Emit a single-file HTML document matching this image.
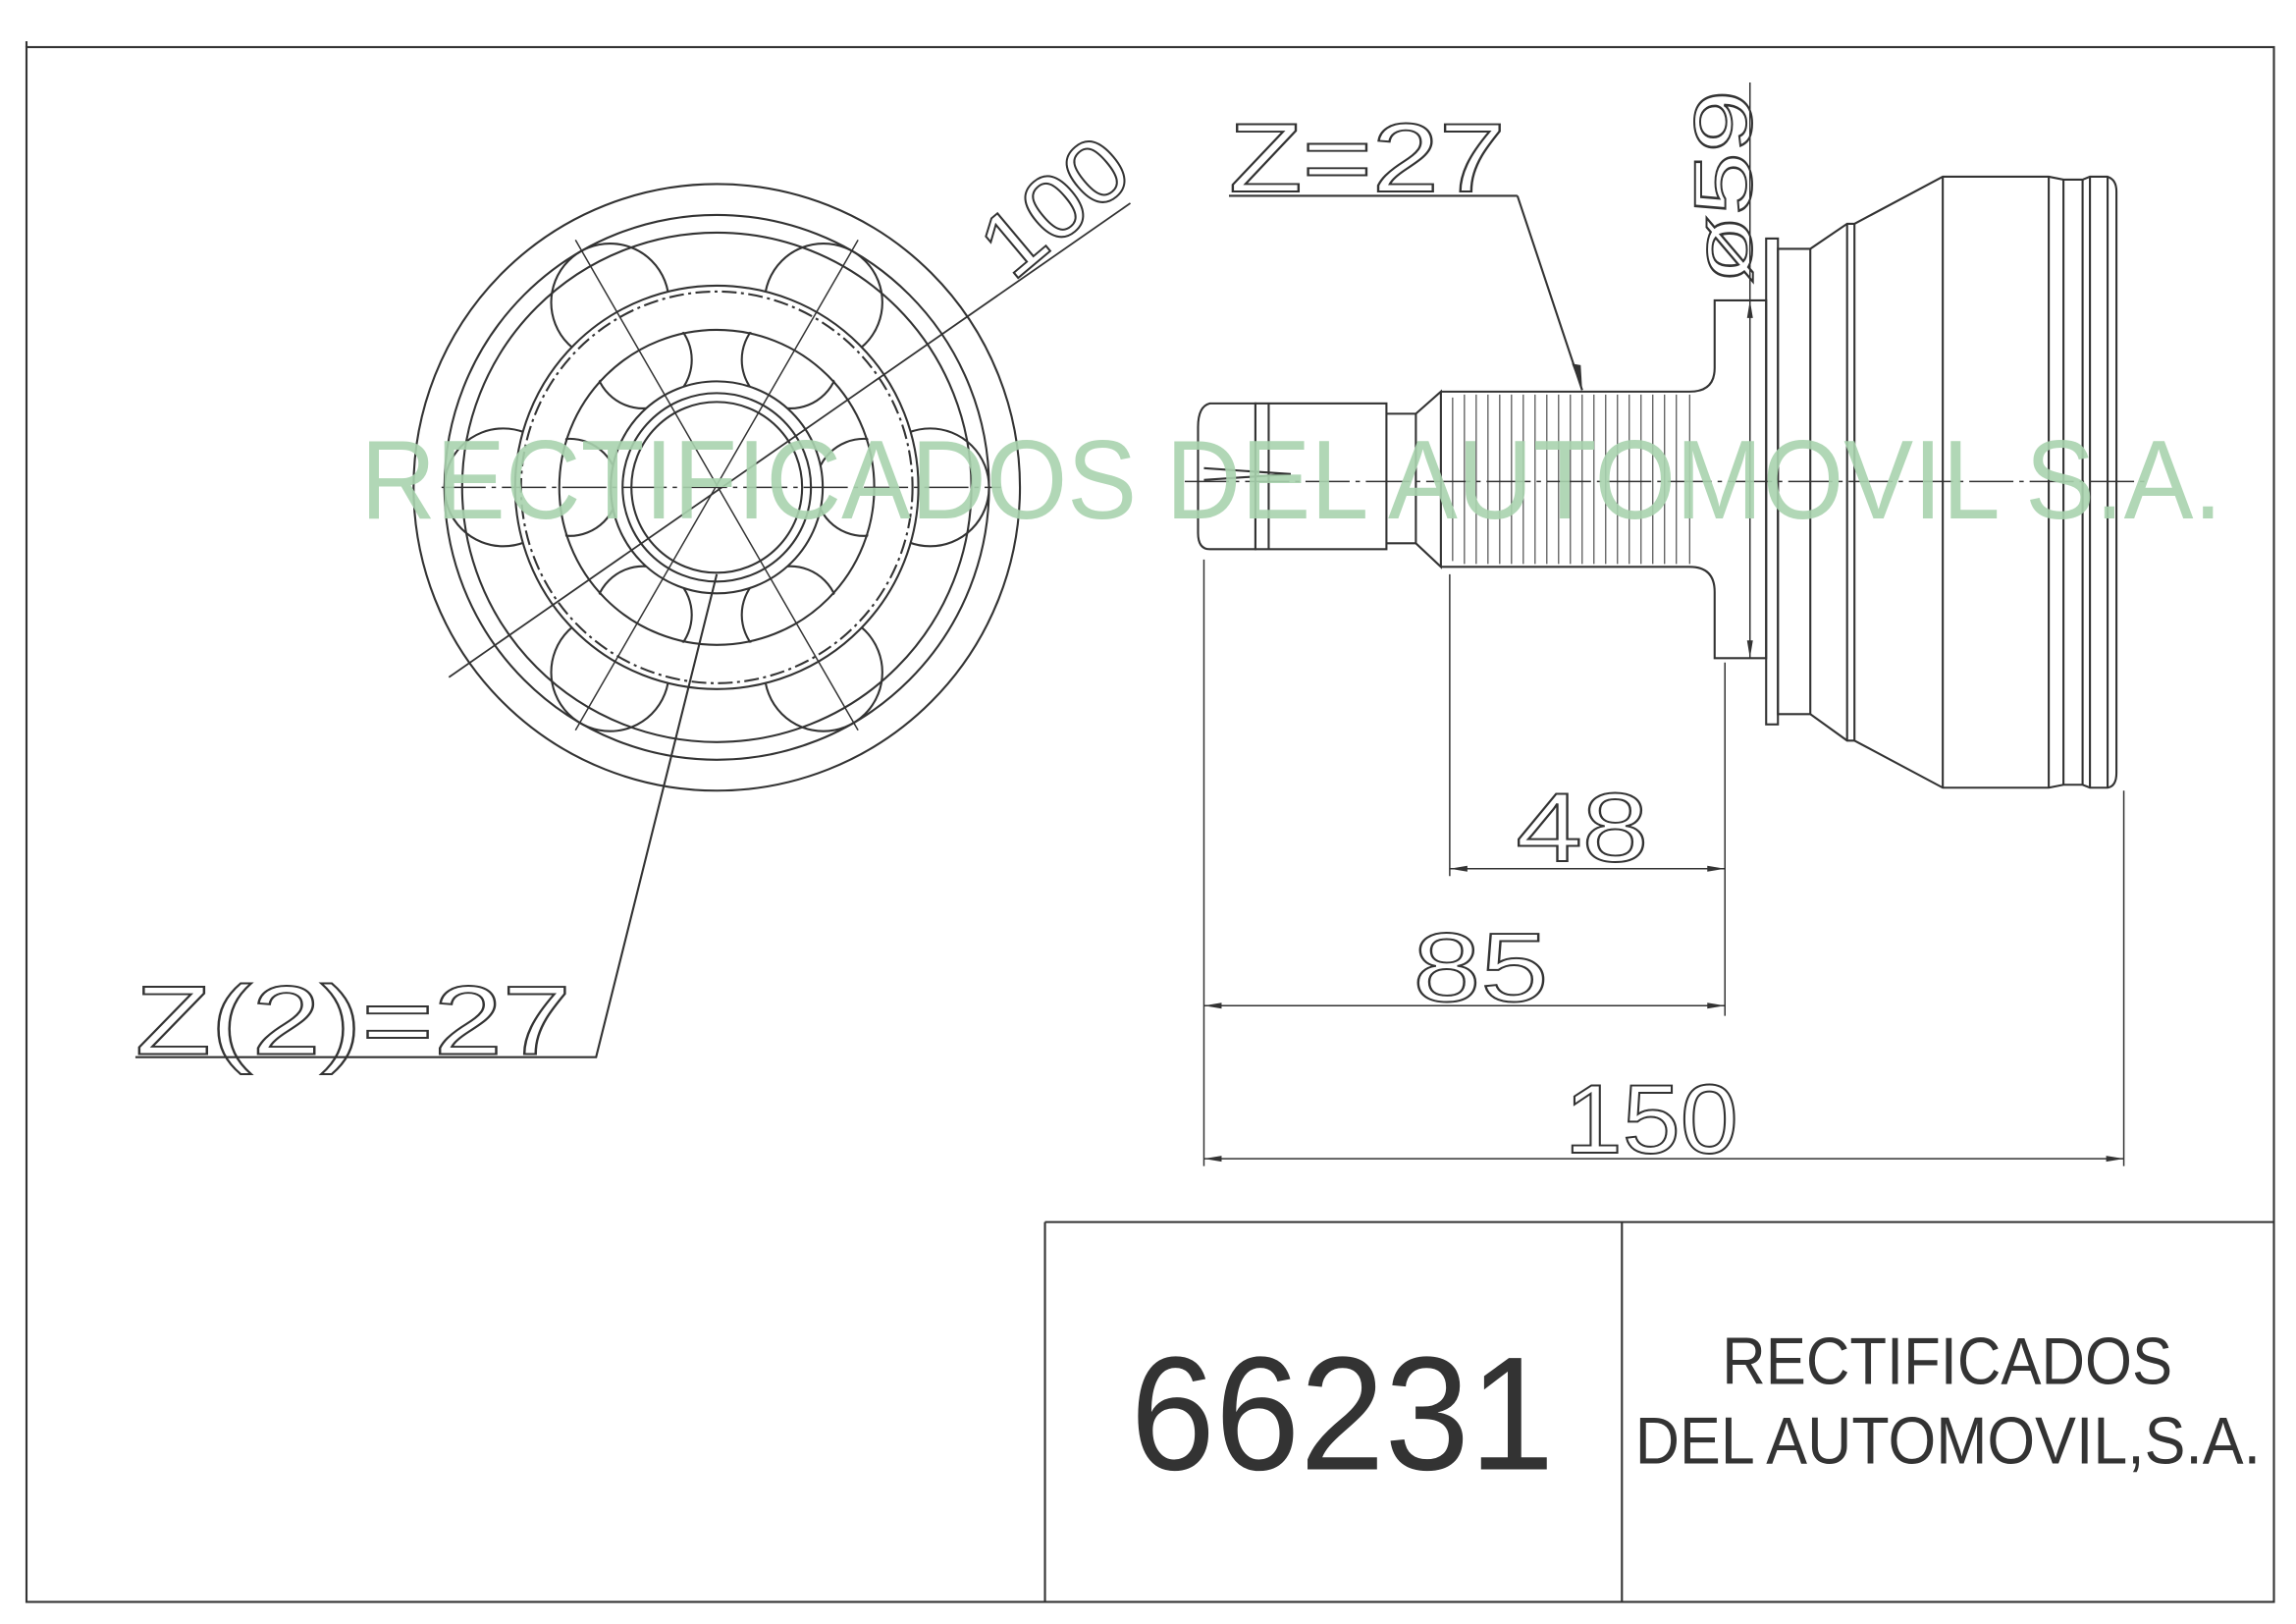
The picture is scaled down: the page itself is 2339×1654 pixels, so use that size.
<!DOCTYPE html>
<html><head><meta charset="utf-8"><style>html,body{margin:0;padding:0;background:#fff}svg{display:block}</style></head>
<body>
<svg width="2339" height="1654" viewBox="0 0 1560 1103" preserveAspectRatio="none" xmlns="http://www.w3.org/2000/svg">
<defs>
<clipPath id="outerRing"><path clip-rule="evenodd" d="M487,331 m-192,0 a192,192 0 1,0 384,0 a192,192 0 1,0 -384,0 Z M487,331 m-137,0 a137,137 0 1,0 274,0 a137,137 0 1,0 -274,0 Z"/></clipPath>
<clipPath id="innerRing"><path clip-rule="evenodd" d="M487,331 m-108,0 a108,108 0 1,0 216,0 a108,108 0 1,0 -216,0 Z M487,331 m-72,0 a72,72 0 1,0 144,0 a72,72 0 1,0 -144,0 Z"/></clipPath>
</defs>
<g fill="none" stroke="#333" stroke-width="1.4">
<rect x="18" y="32" width="1527" height="1056"/>
<line x1="18" y1="28" x2="18" y2="32"/>
<line x1="710" y1="830" x2="1545" y2="830"/>
<line x1="710" y1="830" x2="710" y2="1088"/>
<line x1="1102" y1="830" x2="1102" y2="1088"/>

<circle cx="487" cy="331" r="206"/>
<circle cx="487" cy="331" r="173"/>
<circle cx="487" cy="331" r="137"/>
<circle cx="487" cy="331" r="133" stroke-dasharray="10 3 2 3"/>
<circle cx="487" cy="331" r="107"/>
<circle cx="487" cy="331" r="72"/>
<circle cx="487" cy="331" r="64"/>
<circle cx="487" cy="331" r="58"/>
<g clip-path="url(#outerRing)">
<circle cx="632" cy="331" r="40"/><circle cx="342" cy="331" r="40"/>
<circle cx="559.5" cy="205.4" r="40"/><circle cx="414.5" cy="205.4" r="40"/>
<circle cx="559.5" cy="456.6" r="40"/><circle cx="414.5" cy="456.6" r="40"/>
<circle cx="487" cy="331" r="185"/>
</g>
<g clip-path="url(#innerRing)">
<circle cx="587" cy="331" r="33"/><circle cx="387" cy="331" r="33"/>
<circle cx="537" cy="244.4" r="33"/><circle cx="437" cy="244.4" r="33"/>
<circle cx="537" cy="417.6" r="33"/><circle cx="437" cy="417.6" r="33"/>
</g>
<line x1="300" y1="331" x2="680" y2="331" stroke-dasharray="30 4 3 4" stroke-width="1"/>
<line x1="391" y1="163" x2="583" y2="496" stroke-width="1"/>
<line x1="583" y1="163" x2="391" y2="496" stroke-width="1"/>
<line x1="305" y1="460" x2="768" y2="138" stroke-width="1.2"/>
<polyline points="487,390 405,718 92,718"/>

<line x1="805" y1="327" x2="1460" y2="327" stroke-dasharray="30 4 3 4" stroke-width="1"/>
<path d="M853,274 L822,274 Q814,276 814,290 L814,362 Q814,373 822,373 L853,373 Z"/>
<path d="M818,318 L877,322 L818,326"/>
<rect x="853" y="274" width="89" height="99"/>
<line x1="862" y1="274" x2="862" y2="373"/>
<path d="M942,281 L962,281 L979,266 L979,385 L962,369 L942,369"/>
<line x1="962" y1="281" x2="962" y2="369"/>
<path d="M979,266 L1148,266 Q1165,266 1165,250 L1165,204 L1200,204 L1200,447 L1165,447 L1165,402 Q1165,385 1148,385 L979,385"/>
<g stroke-width="0.7">
<line x1="987" y1="270" x2="987" y2="381"/><line x1="995" y1="268" x2="995" y2="383"/><line x1="1003" y1="268" x2="1003" y2="383"/><line x1="1011" y1="268" x2="1011" y2="383"/><line x1="1019" y1="268" x2="1019" y2="383"/><line x1="1027" y1="268" x2="1027" y2="383"/><line x1="1035" y1="268" x2="1035" y2="383"/><line x1="1043" y1="268" x2="1043" y2="383"/><line x1="1051" y1="268" x2="1051" y2="383"/><line x1="1059" y1="268" x2="1059" y2="383"/><line x1="1067" y1="268" x2="1067" y2="383"/><line x1="1075" y1="268" x2="1075" y2="383"/><line x1="1083" y1="268" x2="1083" y2="383"/><line x1="1091" y1="268" x2="1091" y2="383"/><line x1="1099" y1="268" x2="1099" y2="383"/><line x1="1107" y1="268" x2="1107" y2="383"/><line x1="1115" y1="268" x2="1115" y2="383"/><line x1="1123" y1="268" x2="1123" y2="383"/><line x1="1131" y1="268" x2="1131" y2="383"/><line x1="1139" y1="268" x2="1139" y2="383"/><line x1="1148" y1="268" x2="1148" y2="383"/>
</g>
<rect x="1200" y="162" width="8" height="330"/>
<path d="M1208,169 L1230,169 L1255,152 L1260,152 L1320,120 L1392,120 L1402,122 L1415,122 L1420,120 L1432,120 Q1438,122 1438,130 L1438,525 Q1438,534 1432,535 L1420,535 L1415,533 L1402,533 L1392,535 L1320,535 L1260,503 L1255,503 L1230,485 L1208,485 Z"/>
<line x1="1230" y1="169" x2="1230" y2="485"/>
<line x1="1255" y1="152" x2="1255" y2="503"/>
<line x1="1260" y1="152" x2="1260" y2="503"/>
<line x1="1320" y1="120" x2="1320" y2="535"/>
<line x1="1392" y1="120" x2="1392" y2="535"/>
<line x1="1402" y1="122" x2="1402" y2="533"/>
<line x1="1415" y1="122" x2="1415" y2="533"/>
<line x1="1420" y1="120" x2="1420" y2="535"/>
<line x1="1432" y1="120" x2="1432" y2="535"/>

<line x1="1189" y1="56" x2="1189" y2="447" stroke-width="1"/>
<polyline points="1031,133 835,133" />
<line x1="1031" y1="133" x2="1075" y2="265"/>
<line x1="985" y1="390" x2="985" y2="595" stroke-width="1"/>
<line x1="1172" y1="450" x2="1172" y2="690" stroke-width="1"/>
<line x1="985" y1="590" x2="1172" y2="590" stroke-width="1"/>
<line x1="818" y1="380" x2="818" y2="792" stroke-width="1"/>
<line x1="818" y1="683" x2="1172" y2="683" stroke-width="1"/>
<line x1="1443" y1="537" x2="1443" y2="792" stroke-width="1"/>
<line x1="818" y1="787" x2="1443" y2="787" stroke-width="1"/>
</g>
<g fill="#333" stroke="none">
<path d="M1075,265 L1068,247 L1074,248 Z"/>
<path d="M985,590 L997,588 L997,592 Z"/><path d="M1172,590 L1160,588 L1160,592 Z"/>
<path d="M818,683 L830,681 L830,685 Z"/><path d="M1172,683 L1160,681 L1160,685 Z"/>
<path d="M818,787 L830,785 L830,789 Z"/><path d="M1443,787 L1431,785 L1431,789 Z"/>
<path d="M1189,204 L1187,216 L1191,216 Z"/><path d="M1189,447 L1187,435 L1191,435 Z"/>
</g>

<text x="245" y="352" font-family="Liberation Sans, sans-serif" font-size="76" fill="#a9d3ae" fill-opacity="0.9" textLength="1265" lengthAdjust="spacingAndGlyphs">RECTIFICADOS DEL AUTOMOVIL S.A.</text>

<g font-family="Liberation Sans, sans-serif" fill="none" stroke="#333" stroke-width="1.3">
<text x="92" y="716" font-size="66" textLength="296" lengthAdjust="spacingAndGlyphs">Z(2)=27</text>
<text x="835" y="130" font-size="66" textLength="188" lengthAdjust="spacingAndGlyphs">Z=27</text>
<text x="1030" y="585" font-size="66" textLength="90" lengthAdjust="spacingAndGlyphs">48</text>
<text x="960" y="680" font-size="66" textLength="92" lengthAdjust="spacingAndGlyphs">85</text>
<text x="1063" y="783" font-size="66" textLength="118" lengthAdjust="spacingAndGlyphs">150</text>
<text transform="translate(688,192) rotate(-40)" font-size="62" textLength="110" lengthAdjust="spacingAndGlyphs">100</text>
<text transform="translate(1190,193) rotate(-90)" font-size="56" textLength="132" lengthAdjust="spacingAndGlyphs">ø59</text>
</g>

<g font-family="Liberation Sans, sans-serif" fill="#333">
<text x="768" y="998" font-size="110" textLength="288" lengthAdjust="spacingAndGlyphs">66231</text>
<text x="1170" y="940" font-size="45" textLength="306" lengthAdjust="spacingAndGlyphs">RECTIFICADOS</text>
<text x="1111" y="994" font-size="45" textLength="425" lengthAdjust="spacingAndGlyphs">DEL AUTOMOVIL,S.A.</text>
</g>
</svg>
</body></html>
